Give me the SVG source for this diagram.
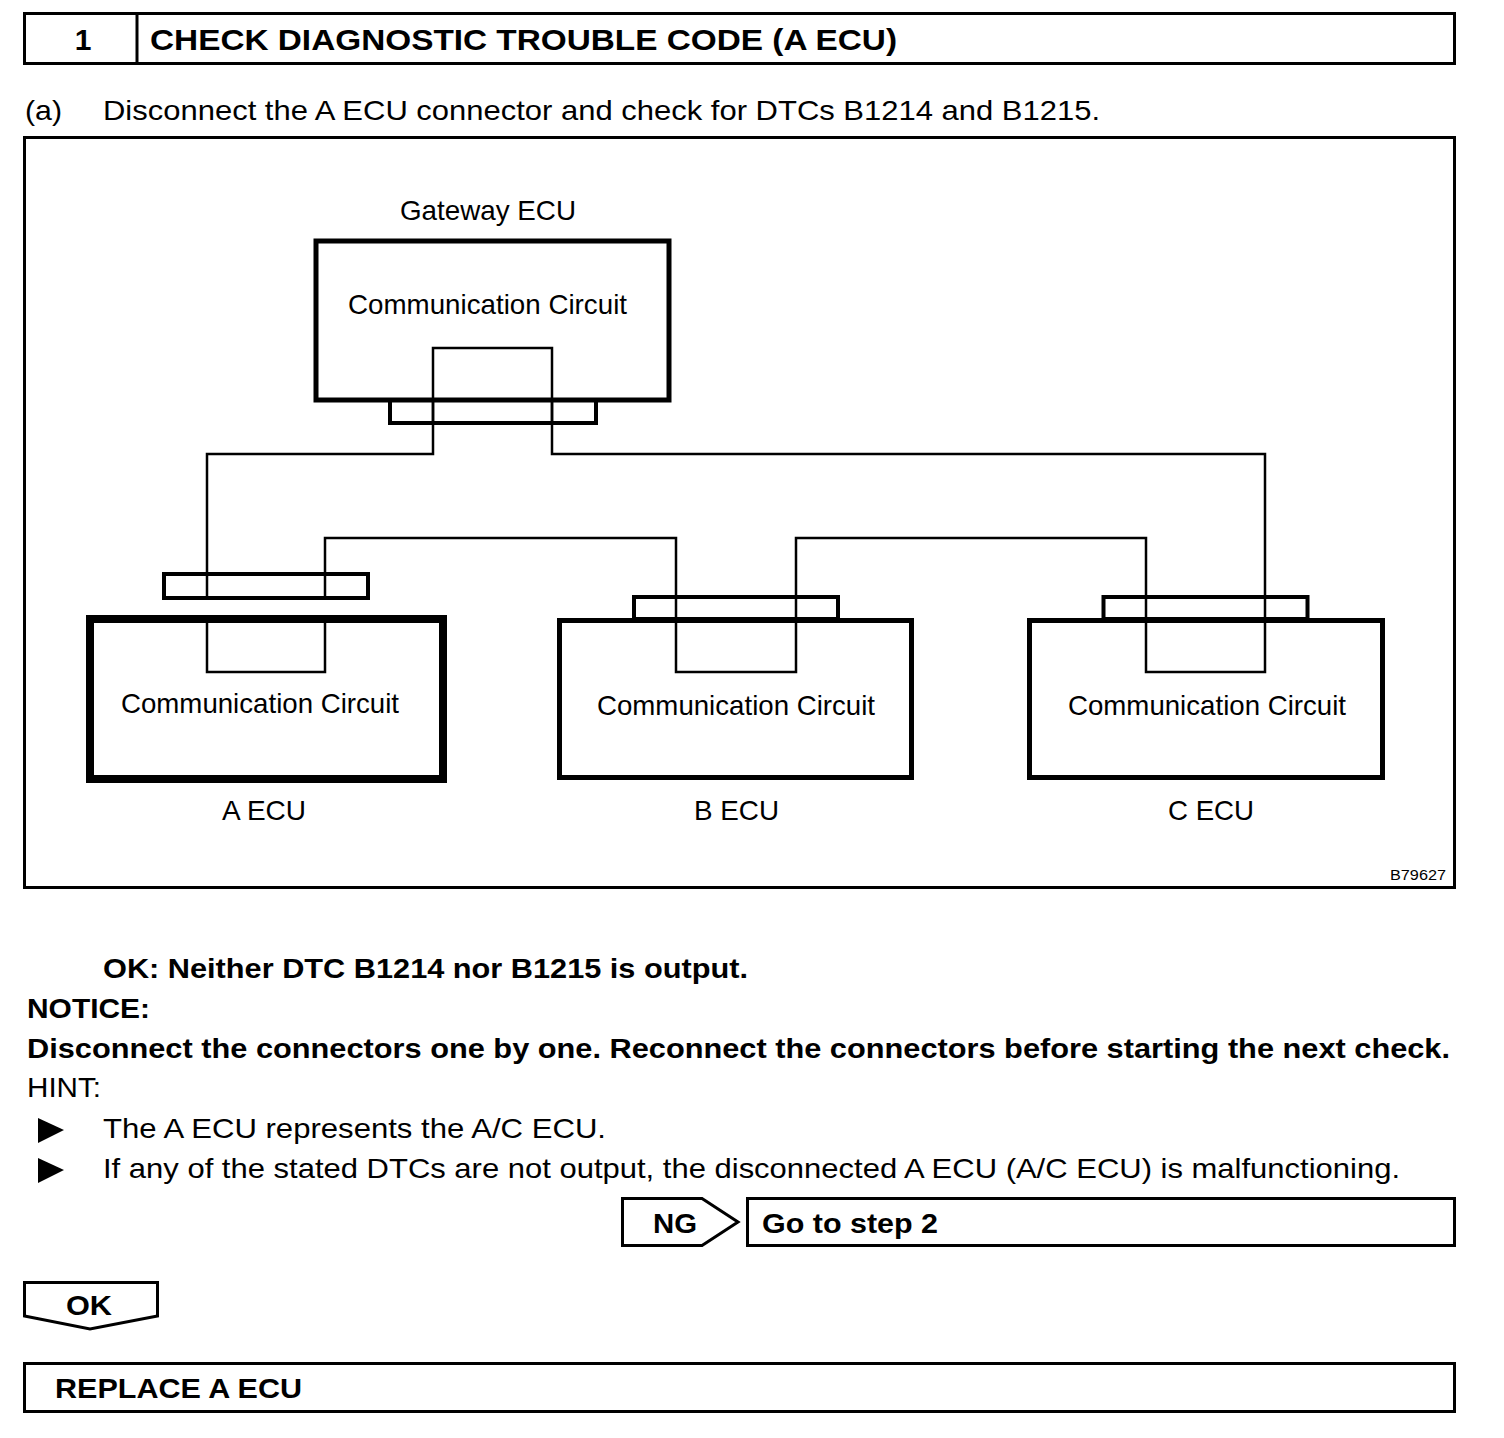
<svg xmlns="http://www.w3.org/2000/svg" width="1504" height="1438" viewBox="0 0 1504 1438">
<style>
text{font-family:"Liberation Sans",Arial,sans-serif;fill:#000}
.b{font-weight:bold}
.r{font-size:28px}
.bx{fill:none;stroke:#000;stroke-width:3}
.w{fill:none;stroke:#000;stroke-width:2.5}
.cc{font-size:28px;text-anchor:middle}
.lb{font-size:28px;text-anchor:middle}
</style>
<rect width="1504" height="1438" fill="#fff"/>
<g id="header">
<rect class="bx" x="24.5" y="13.5" width="1430" height="50"/>
<line x1="137" y1="13" x2="137" y2="64" stroke="#000" stroke-width="3"/>
<text class="b" x="83" y="50" font-size="30" text-anchor="middle">1</text>
<text class="b" x="150" y="50" font-size="30" textLength="747" lengthAdjust="spacingAndGlyphs">CHECK DIAGNOSTIC TROUBLE CODE (A ECU)</text>
</g>
<text class="r" x="25" y="120" textLength="37" lengthAdjust="spacingAndGlyphs">(a)</text>
<text class="r" x="103" y="120" textLength="997" lengthAdjust="spacingAndGlyphs">Disconnect the A ECU connector and check for DTCs B1214 and B1215.</text>
<rect id="frame" class="bx" x="24.5" y="137.5" width="1430" height="750"/>
<g id="connectors">
<polyline class="w" points="433,400 433,454 207,454 207,598"/>
<polyline class="w" points="552,400 552,454 1265,454 1265,672 1146,672 1146,538 796,538 796,672 676,672 676,538 325,538 325,598"/>
<polyline class="w" points="207,618 207,672 325,672 325,618"/>
</g>
<g id="gateway-ecu">
<text class="lb" x="488" y="220" textLength="176" lengthAdjust="spacingAndGlyphs">Gateway ECU</text>
<rect x="316" y="241" width="353" height="159" fill="#fff" stroke="#000" stroke-width="5"/>
<text class="cc" x="487.5" y="314" textLength="279" lengthAdjust="spacingAndGlyphs">Communication Circuit</text>
<polyline class="w" points="433,400 433,348 552,348 552,400"/>
<rect x="390" y="400" width="206" height="23" fill="none" stroke="#000" stroke-width="4"/>
<line class="w" x1="433" y1="400" x2="433" y2="423"/>
<line class="w" x1="552" y1="400" x2="552" y2="423"/>
</g>
<g id="a-ecu">
<rect x="164" y="574" width="204" height="24" fill="none" stroke="#000" stroke-width="4"/>
<rect x="90" y="619" width="353" height="160" fill="none" stroke="#000" stroke-width="8"/>
<text class="cc" x="260" y="713" textLength="278" lengthAdjust="spacingAndGlyphs">Communication Circuit</text>
<text class="lb" x="264" y="820" textLength="84" lengthAdjust="spacingAndGlyphs">A ECU</text>
</g>
<g id="b-ecu">
<rect x="634" y="597" width="204" height="22" fill="none" stroke="#000" stroke-width="4"/>
<rect x="559.5" y="620.5" width="352" height="157" fill="none" stroke="#000" stroke-width="5"/>
<text class="cc" x="736" y="715" textLength="278" lengthAdjust="spacingAndGlyphs">Communication Circuit</text>
<text class="lb" x="736.5" y="820" textLength="85" lengthAdjust="spacingAndGlyphs">B ECU</text>
</g>
<g id="c-ecu">
<rect x="1103.5" y="597" width="204" height="22" fill="none" stroke="#000" stroke-width="4"/>
<rect x="1029.5" y="620.5" width="353" height="157" fill="none" stroke="#000" stroke-width="5"/>
<text class="cc" x="1207" y="715" textLength="278" lengthAdjust="spacingAndGlyphs">Communication Circuit</text>
<text class="lb" x="1211" y="820" textLength="86" lengthAdjust="spacingAndGlyphs">C ECU</text>
</g>
<text x="1446" y="880" font-size="14" text-anchor="end" textLength="56" lengthAdjust="spacingAndGlyphs">B79627</text>
<text class="b" x="103" y="978" font-size="27" textLength="645" lengthAdjust="spacingAndGlyphs">OK: Neither DTC B1214 nor B1215 is output.</text>
<text class="b" x="27" y="1018" font-size="28" textLength="123" lengthAdjust="spacingAndGlyphs">NOTICE:</text>
<text class="b" x="27" y="1058" font-size="27" textLength="1423" lengthAdjust="spacingAndGlyphs">Disconnect the connectors one by one. Reconnect the connectors before starting the next check.</text>
<text x="27" y="1097" font-size="28" textLength="74" lengthAdjust="spacingAndGlyphs">HINT:</text>
<polygon points="38,1118 64,1130 38,1143" fill="#000"/>
<text x="103" y="1138" font-size="28" textLength="503" lengthAdjust="spacingAndGlyphs">The A ECU represents the A/C ECU.</text>
<polygon points="38,1158 64,1170 38,1183" fill="#000"/>
<text x="103" y="1178" font-size="28" textLength="1297" lengthAdjust="spacingAndGlyphs">If any of the stated DTCs are not output, the disconnected A ECU (A/C ECU) is malfunctioning.</text>
<g id="ng">
<polygon points="622.5,1198.5 702,1198.5 738,1222 702,1245.5 622.5,1245.5" fill="none" stroke="#000" stroke-width="3"/>
<text class="b" x="675" y="1233" font-size="28" text-anchor="middle" textLength="44" lengthAdjust="spacingAndGlyphs">NG</text>
</g>
<g id="go-step-2">
<rect class="bx" x="747.5" y="1198.5" width="707" height="47"/>
<text class="b" x="762" y="1233" font-size="28" textLength="176" lengthAdjust="spacingAndGlyphs">Go to step 2</text>
</g>
<g id="ok">
<polygon points="24.5,1282.5 157.5,1282.5 157.5,1316 90,1329 24.5,1316" fill="none" stroke="#000" stroke-width="3"/>
<text class="b" x="89" y="1315" font-size="28" text-anchor="middle" textLength="46" lengthAdjust="spacingAndGlyphs">OK</text>
</g>
<g id="replace">
<rect class="bx" x="24.5" y="1363.5" width="1430" height="48"/>
<text class="b" x="55" y="1398" font-size="28" textLength="247" lengthAdjust="spacingAndGlyphs">REPLACE A ECU</text>
</g>
</svg>
